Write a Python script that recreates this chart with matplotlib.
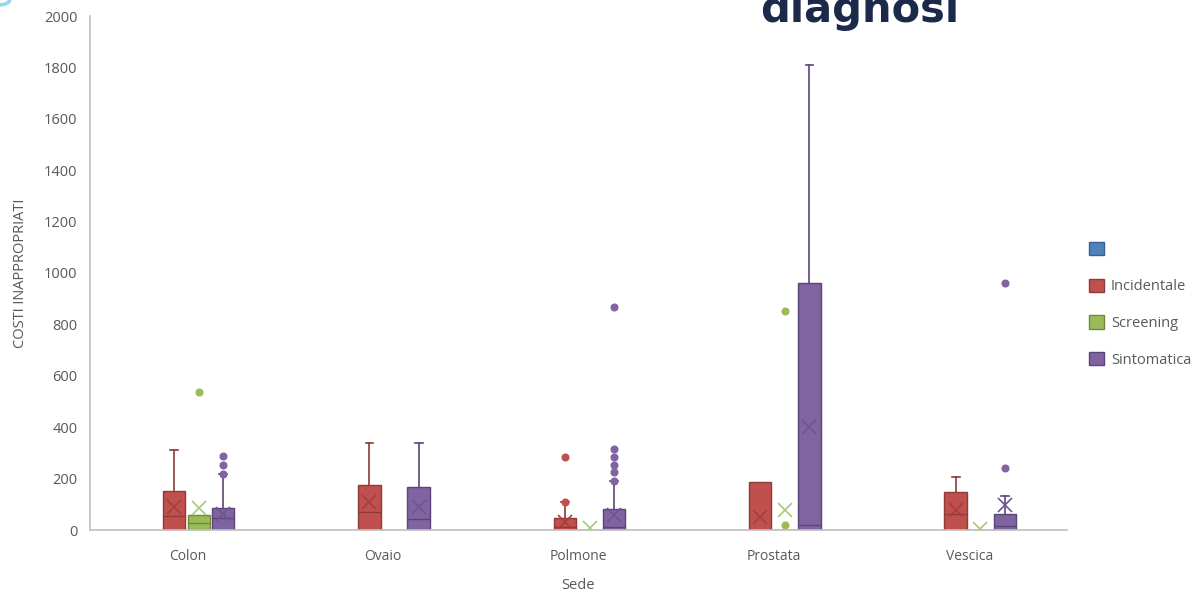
import matplotlib.pyplot as plt
import numpy as np
from matplotlib.patches import Patch, Circle

plt.rcParams['font.family'] = ['Open Sans', 'DejaVu Sans']

# Categories (Sede)
categories = ['Colon', 'Ovaio', 'Polmone', 'Prostata', 'Vescica']

# Incidentale box stats
inc_q1 = [0, 0, 0, 0, 0]
inc_med = [54, 71, 12, 0, 61]
inc_q3 = [153, 175, 45, 188, 147]
inc_lo = [0, 0, 0, 0, 0]
inc_hi = [311, 340, 110, 188, 207]
inc_mean = [90, 110, 32, 52, 78]
inc_fliers = [[], [], [110, 283], [], []]

# Screening box stats (no data for Ovaio)
scr_q1 = [0, None, 0, 0, 0]
scr_med = [28, None, 0, 0, 0]
scr_q3 = [57, None, 0, 0, 0]
scr_lo = [0, None, 0, 0, 0]
scr_hi = [57, None, 0, 0, 0]
scr_mean = [86, None, 6, 78, 4]
scr_fliers = [[538], [], [], [19, 852], []]

# Sintomatica box stats
sin_q1 = [0, 0, 0, 0, 0]
sin_med = [45, 42, 10, 20, 15]
sin_q3 = [84, 169, 80, 960, 61]
sin_lo = [0, 0, 0, 0, 0]
sin_hi = [218, 340, 190, 1810, 132]
sin_mean = [62, 88, 58, 402, 97]
sin_fliers = [[218, 253, 289], [], [190, 225, 254, 283, 316, 869], [], [243, 960]]

series = [
    ('Incidentale', '#C0504D', '#8E3A38', '#A3403D', inc_q1, inc_med, inc_q3, inc_lo, inc_hi, inc_mean, inc_fliers),
    ('Screening', '#9BBB59', '#6F8A3C', '#A8C97C', scr_q1, scr_med, scr_q3, scr_lo, scr_hi, scr_mean, scr_fliers),
    ('Sintomatica', '#8064A2', '#5B4577', '#6E5590', sin_q1, sin_med, sin_q3, sin_lo, sin_hi, sin_mean, sin_fliers),
]
offsets = [-0.07, 0.057, 0.182]   # blue (empty) series occupies the first slot

fig = plt.figure(figsize=(11.96, 5.96), dpi=100)
ax = fig.add_axes([90 / 1196, 1 - 530 / 596, (1067 - 90) / 1196, (530 - 16) / 596])

x = np.arange(len(categories))
for (name, fc, ec, mc, q1, med, q3, lo, hi, mean, fl), off in zip(series, offsets):
    stats, pos = [], []
    for i in range(len(categories)):
        if q1[i] is None:
            continue
        stats.append(dict(q1=q1[i], med=med[i], q3=q3[i], whislo=lo[i], whishi=hi[i],
                          mean=mean[i], fliers=fl[i]))
        pos.append(x[i] + off)
    art = ax.bxp(stats, positions=pos, widths=0.115, patch_artist=True, showmeans=True,
                 capwidths=0.04, manage_ticks=False,
                 boxprops=dict(facecolor=fc, edgecolor=ec, linewidth=1.0),
                 medianprops=dict(color=ec, linewidth=1.0),
                 whiskerprops=dict(color=ec, linewidth=1.2),
                 capprops=dict(color=ec, linewidth=1.2),
                 meanprops=dict(marker='x', markersize=10, markeredgecolor=mc,
                                markeredgewidth=1.2),
                 flierprops=dict(marker='o', markersize=4.8, markerfacecolor=fc,
                                 markeredgecolor=fc))
    # hide lower caps and caps where the whisker has no length
    for k, st in enumerate(stats):
        art['caps'][2 * k].set_visible(False)
        if st['whishi'] <= st['q3']:
            art['caps'][2 * k + 1].set_visible(False)

ax.set_xlim(-0.5, 4.5)
ax.set_ylim(0, 2000)
ax.set_yticks(np.arange(0, 2001, 200))
ax.set_xticks(x)
ax.set_xticklabels(categories)
ax.tick_params(length=0, colors='#595959')
ax.tick_params(axis='x', labelsize=10, pad=14)
ax.tick_params(axis='y', labelsize=10.5, pad=9)
for s in ['top', 'right']:
    ax.spines[s].set_visible(False)
for s in ['left', 'bottom']:
    ax.spines[s].set_color('#BFBFBF')
    ax.spines[s].set_linewidth(1.2)
ax.set_xlabel('Sede', fontsize=10.5, color='#595959', labelpad=10)
ax.set_ylabel('COSTI INAPPROPRIATI', fontsize=10.5, color='#595959')
ax.yaxis.set_label_coords(-62 / 977, 0.5)

handles = [Patch(facecolor='#4F81BD', edgecolor='#3A6090'),
           Patch(facecolor='#C0504D', edgecolor='#8E3A38'),
           Patch(facecolor='#9BBB59', edgecolor='#6F8A3C'),
           Patch(facecolor='#8064A2', edgecolor='#5B4577')]
fig.legend(handles, ['', 'Incidentale', 'Screening', 'Sintomatica'],
           loc='upper left', bbox_to_anchor=(1076 / 1196, 1 - 229 / 596),
           frameon=False, fontsize=10.5, labelcolor='#595959',
           handlelength=1.0, handleheight=1.0, labelspacing=1.45, handletextpad=0.5)

# cut-off slide title
fig.text(760 / 1196, 1 - 22 / 596, 'diagnosi', fontsize=30, fontweight='bold',
         color='#1B2A4A', family='DejaVu Sans', ha='left', va='baseline')
fig.patches.append(Circle((0, 1), 0.008, transform=fig.transFigure,
                          facecolor='none', edgecolor='#8ED8F0', linewidth=2.5))

fig.savefig('out.png', dpi=100)
